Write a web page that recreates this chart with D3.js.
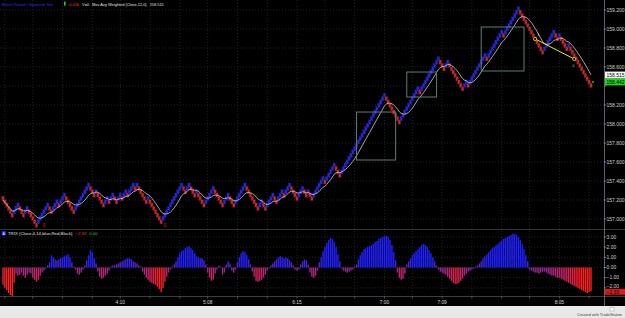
<!DOCTYPE html>
<html>
<head>
<meta charset="utf-8">
<script src="https://cdn.jsdelivr.net/npm/d3@7"></script>
<style>
  body { margin: 0; background: #e6e6e6; }
  svg { display: block; font-family: 'Liberation Sans', Arial, sans-serif; }
</style>
</head>
<body>
<svg id="graf" width="625" height="318"></svg>
<script>
// I. Datos
// ladrillos: cada número es una racha de ladrillos (+ sube, - baja)
const movimientos = [-6, 3, -3, 2, -5, 6, -2, 3, -1, 3, -5, 8, -3, 1, -4, 2, -1, 2, -2, 2,
  -1, 2, -1, 3, -1, 1, -5, 1, -7, 11, -2, 2, -3, 1, -4, 5, -5, 3, -3, 6,
  -7, 2, -2, 4, -2, 3, -1, 3, -4, 3, -2, 1, -2, 6, -1, 5, -3, 24, -8, 10,
  -1, 10, -3, 2, -8, 2, -1, 9, -1, 8, -1, 8, -13, 6, -2, 1, -4, 1, -12]
const precioInicio = 157.234
const tamLadrillo = 0.035
const periodoMedia = 12

const trix = [
  -1.7, -2.0, -2.2, -2.5, -2.7, -2.8, -1.5, -0.6, -0.8, -0.7,
  -0.5, -0.8, -1.0, -0.7, -0.5, -0.6, -1.0, -1.2, -1.4, -1.2,
  -0.8, -0.5, -0.3, -0.1, 0.2, 0.5, 1.2, 1.0, 0.8, 0.7,
  0.8, 0.9, 1.0, 1.1, 1.2, 1.3, 1.0, 0.5, 0.1, -0.2,
  -0.6, -0.7, -0.5, -0.2, 0.2, 0.7, 1.2, 1.7, 1.5, 0.9,
  0.4, -0.4, -0.9, -1.1, -1.0, -0.8, -0.6, -0.3, 0.1, 0.2,
  0.2, 0.3, 0.4, 0.5, 0.6, 0.7, 0.8, 0.9, 0.9, 0.8,
  0.6, 0.5, 0.4, 0.2, 0.1, -0.4, -0.7, -1.0, -1.2, -1.4,
  -1.5, -1.6, -1.7, -1.9, -2.1, -2.4, -2.0, -1.4, -0.9, -0.5,
  -0.2, 0.1, 0.3, 0.6, 1.0, 1.4, 1.6, 1.7, 1.9, 2.0,
  2.1, 1.9, 1.7, 1.4, 1.1, 1.0, 0.9, 0.9, 0.7, 0.3,
  -0.5, -1.0, -1.3, -1.2, -0.6, -0.2, 0.2, 0.1, -0.7, -0.5,
  0.3, 0.6, 0.4, -0.3, -0.5, -0.2, 0.5, 1.0, 1.4, 1.6,
  1.5, 1.2, 0.8, 0.3, -0.4, -0.9, -1.3, -1.4, -1.3, -1.2,
  -1.0, -0.7, -0.3, -0.1, 0.2, 0.4, 0.6, 0.8, 1.0, 1.1,
  1.0, 0.9, 1.0, 0.9, 0.7, 0.5, 0.2, -0.2, -0.3, -0.2,
  0.3, 0.6, 0.8, 0.7, 0.3, -0.5, -0.9, -1.0, -0.8, -0.3,
  0.5, 1.0, 1.6, 2.0, 2.4, 2.7, 2.9, 2.8, 2.5, 2.0,
  1.3, 0.6, -0.1, -0.3, -0.4, -0.5, -0.4, -0.3, -0.2, 0.1,
  0.3, 0.8, 1.2, 1.5, 1.8, 1.9, 2.0, 2.1, 2.2, 2.3,
  2.5, 2.6, 2.8, 2.9, 3.0, 3.1, 3.1, 3.0, 2.7, 2.2,
  1.5, 0.7, -0.5, -1.0, -1.2, -1.1, -0.6, 0.3, 0.6, 0.9,
  1.2, 1.4, 1.6, 1.8, 2.0, 2.2, 2.3, 2.2, 2.0, 1.7,
  1.4, 1.0, 0.6, 0.2, -0.2, -0.4, -0.5, -0.6, -0.7, -0.9,
  -1.1, -1.3, -1.5, -1.6, -1.6, -1.5, -1.3, -1.1, -0.8, -0.6,
  -0.4, -0.3, -0.2, -0.1, 0.1, 0.2, 0.4, 0.6, 0.9, 1.1,
  1.3, 1.5, 1.7, 1.9, 2.0, 2.2, 2.3, 2.5, 2.6, 2.8,
  2.9, 3.0, 3.1, 3.2, 3.3, 3.3, 3.2, 3.0, 2.7, 2.3,
  1.8, 1.2, 0.6, -0.2, -0.3, -0.4, -0.5, -0.5, -0.6, -0.5,
  -0.4, -0.4, -0.5, -0.6, -0.7, -0.8, -0.8, -0.9, -1.0, -1.0,
  -1.1, -1.2, -1.3, -1.4, -1.5, -1.6, -1.7, -1.8, -1.9, -2.0,
  -2.1, -2.2, -2.3, -2.4, -2.5, -2.4, -2.33]

const preciosEje = [159.2, 159.0, 158.8, 158.6, 158.4, 158.2, 158.0, 157.8, 157.6, 157.4, 157.2, 157.0]
// 158.400 queda tapado por la caja del último precio
const preciosTexto = [159.2, 159.0, 158.8, 158.6, 158.2, 158.0, 157.8, 157.6, 157.4, 157.2, 157.0]
const trixEje = [3, 2, 1, 0, -1, -2]
const ticksHora = [1, 16, 32, 48, 63, 79, 95, 110, 126, 142, 158, 173, 189, 205, 220, 236, 252, 268, 283, 299, 315]
const horasBarra = [63, 110, 158, 205, 236, 299]
const horasTexto = ['4:10', '5:08', '6:15', '7:00', '7:09', '8:05']

// dibujos sobre el gráfico: [barra inicio, barra fin, precio arriba, precio abajo]
const cajas = [[190, 211, 158.126, 157.621], [217, 233, 158.547, 158.284], [257, 280, 159.021, 158.558]]
const lineaTend = [[286, 158.895], [307, 158.684]]
const marcasCero = [[22, 156.916], [87, 156.916]]

const ultimoPrecio = 158.442
const ultimaMedia = 158.515
const ultimoTrix = -2.33

// II. Configuración
svg = d3.select('#graf')
ancho_total = 625
alto_total = 318
ejeX = 604   // línea del eje de precios

// fondo negro hasta la banda de horas, gris claro abajo
svg.append('rect').attr('width', ancho_total).attr('height', alto_total).attr('fill', '#e8e8e8')
svg.append('rect').attr('width', ancho_total).attr('height', 306).attr('fill', '#000')

// construimos los ladrillos a partir de las rachas
barras = []
nivel = 0
movimientos.forEach(m => {
  d3.range(Math.abs(m)).forEach(() => {
    nivel += Math.sign(m)
    const bajo = precioInicio + nivel * tamLadrillo
    barras.push({ arriba: m > 0, bajo: bajo, alto: bajo + tamLadrillo, cierre: m > 0 ? bajo + tamLadrillo : bajo })
  })
})

// media móvil ponderada del cierre
barras.forEach((d, i) => {
  const ventana = barras.slice(Math.max(0, i - periodoMedia + 1), i + 1)
  const pesos = ventana.map((v, j) => j + 1)
  d.media = d3.sum(ventana, (v, j) => v.cierre * pesos[j]) / d3.sum(pesos)
})

x = d3.scaleLinear().domain([0, barras.length - 1]).range([3, 591])
y = d3.scaleLinear().domain([157.0, 159.2]).range([219, 10])
yT = d3.scaleLinear().domain([-2, 3]).range([287.9, 236.9])

colorTrix = d3.scaleLinear()
  .domain([-2.2, -0.3, 1.2])
  .range(['#ff2020', '#8a2a9e', '#2020ff'])
  .clamp(true)

// III. Rejilla
rejilla = svg.append('g')
  .attr('stroke', '#3a3a3a')
  .attr('stroke-width', 0.6)
  .attr('stroke-dasharray', '1,2')

rejilla.selectAll('.hp')
  .data(preciosEje)
  .enter().append('line')
    .attr('x1', 0).attr('x2', ejeX)
    .attr('y1', d => y(d)).attr('y2', d => y(d))

rejilla.selectAll('.ht')
  .data(trixEje)
  .enter().append('line')
    .attr('x1', 0).attr('x2', ejeX)
    .attr('y1', d => yT(d)).attr('y2', d => yT(d))

rejilla.selectAll('.v')
  .data(ticksHora)
  .enter().append('line')
    .attr('x1', d => x(d)).attr('x2', d => x(d))
    .attr('y1', 0).attr('y2', 296)

// separación entre paneles
svg.append('line')
  .attr('x1', 0).attr('x2', ancho_total)
  .attr('y1', 229.5).attr('y2', 229.5)
  .attr('stroke', '#555').attr('stroke-width', 0.6)

// IV. Ladrillos (un poco más altos que el paso, como en el original)
svg.append('g').selectAll('rect')
  .data(barras)
  .enter().append('rect')
    .attr('x', (d, i) => x(i) - 1.3)
    .attr('y', d => y(d.alto) - 0.5)
    .attr('width', 2.6)
    .attr('height', d => y(d.bajo) - y(d.alto) + 1)
    .attr('fill', d => d.arriba ? '#2828d2' : '#c02a2a')
    .attr('stroke', d => d.arriba ? '#161680' : '#5e1010')
    .attr('stroke-width', 0.35)

// media ponderada
linea = d3.line()
  .x((d, i) => x(i))
  .y(d => y(d.media))

svg.append('path')
  .datum(barras)
  .attr('d', linea)
  .attr('fill', 'none')
  .attr('stroke', '#cfcfcf')
  .attr('stroke-width', 0.8)

// cajas dibujadas
svg.append('g').selectAll('rect')
  .data(cajas)
  .enter().append('rect')
    .attr('x', d => x(d[0]))
    .attr('y', d => y(d[2]))
    .attr('width', d => x(d[1]) - x(d[0]))
    .attr('height', d => y(d[3]) - y(d[2]))
    .attr('fill', 'none')
    .attr('stroke', '#5d7f70')
    .attr('stroke-width', 1)

// línea de tendencia amarilla
svg.append('line')
  .attr('x1', x(lineaTend[0][0])).attr('y1', y(lineaTend[0][1]))
  .attr('x2', x(lineaTend[1][0])).attr('y2', y(lineaTend[1][1]))
  .attr('stroke', '#f0f000').attr('stroke-width', 1)

svg.append('g').selectAll('circle')
  .data(lineaTend)
  .enter().append('circle')
    .attr('cx', d => x(d[0])).attr('cy', d => y(d[1]))
    .attr('r', 1.6)
    .attr('fill', '#000').attr('stroke', '#f0f000').attr('stroke-width', 0.8)

svg.append('text')
  .attr('x', x(lineaTend[0][0]) + 2).attr('y', y(lineaTend[0][1]) - 3)
  .attr('font-size', '4px').attr('fill', '#ddd').text('1')
svg.append('text')
  .attr('x', x(lineaTend[1][0]) - 2).attr('y', y(lineaTend[1][1]) + 8)
  .attr('font-size', '4px').attr('fill', '#aaa').text('0')

svg.append('g').selectAll('text')
  .data(marcasCero)
  .enter().append('text')
    .attr('x', d => x(d[0])).attr('y', d => y(d[1]))
    .attr('text-anchor', 'middle')
    .attr('font-size', '4.5px').attr('fill', '#e02020')
    .text('0')

// punto del último precio
svg.append('circle')
  .attr('cx', x(barras.length - 1) + 2).attr('cy', y(ultimoPrecio))
  .attr('r', 1).attr('fill', '#20c020')

// V. TRIX
svg.append('g').selectAll('rect')
  .data(trix)
  .enter().append('rect')
    .attr('x', (d, i) => x(i) - 0.7)
    .attr('y', d => Math.min(yT(0), yT(d)))
    .attr('width', 1.4)
    .attr('height', d => Math.abs(yT(d) - yT(0)))
    .attr('fill', d => colorTrix(d))

// VI. Ejes
// banda de horas
svg.append('line')
  .attr('x1', 0).attr('x2', ancho_total)
  .attr('y1', 296.5).attr('y2', 296.5)
  .attr('stroke', '#666').attr('stroke-width', 0.6)

svg.append('g').selectAll('line')
  .data(ticksHora)
  .enter().append('line')
    .attr('x1', d => x(d)).attr('x2', d => x(d))
    .attr('y1', 296.5).attr('y2', 298.5)
    .attr('stroke', '#888').attr('stroke-width', 0.6)

svg.append('g').selectAll('text')
  .data(horasBarra)
  .enter().append('text')
    .attr('x', d => x(d)).attr('y', 304)
    .attr('text-anchor', 'middle')
    .attr('font-size', '4.8px').attr('fill', '#d8d8d8')
    .text((d, i) => horasTexto[i])

// eje de precios
svg.append('line')
  .attr('x1', ejeX + 0.5).attr('x2', ejeX + 0.5)
  .attr('y1', 0).attr('y2', 306)
  .attr('stroke', '#8a8a8a').attr('stroke-width', 0.7)

ejeP = svg.append('g')
ejeP.selectAll('line')
  .data(preciosEje)
  .enter().append('line')
    .attr('x1', ejeX).attr('x2', ejeX + 2.5)
    .attr('y1', d => y(d)).attr('y2', d => y(d))
    .attr('stroke', '#aaa').attr('stroke-width', 0.6)
ejeP.selectAll('text')
  .data(preciosTexto)
  .enter().append('text')
    .attr('x', ejeX + 2.5).attr('y', d => y(d) + 1.7)
    .attr('font-size', '5px').attr('fill', '#d0d0d0')
    .text(d => d3.format('.3f')(d))

ejeT = svg.append('g')
ejeT.selectAll('line')
  .data(trixEje)
  .enter().append('line')
    .attr('x1', ejeX).attr('x2', ejeX + 2.5)
    .attr('y1', d => yT(d)).attr('y2', d => yT(d))
    .attr('stroke', '#aaa').attr('stroke-width', 0.6)
ejeT.selectAll('text')
  .data(trixEje)
  .enter().append('text')
    .attr('x', ejeX + 2.5).attr('y', d => yT(d) + (d === -2 ? 0.3 : 1.7))
    .attr('font-size', '5px').attr('fill', '#d0d0d0')
    .text(d => d3.format('.2f')(d))

// cajas de último valor
function cajaValor(yPos, texto, fondo, alto) {
  svg.append('rect')
    .attr('x', ejeX + 1).attr('y', yPos - alto / 2)
    .attr('width', ancho_total - ejeX - 1).attr('height', alto)
    .attr('fill', fondo)
  svg.append('text')
    .attr('x', ejeX + 2.5).attr('y', yPos + 1.8)
    .attr('font-size', '5px').attr('fill', '#000')
    .text(texto)
}
cajaValor(y(ultimaMedia), d3.format('.3f')(ultimaMedia), '#ffffff', 7)
cajaValor(y(ultimoPrecio), d3.format('.3f')(ultimoPrecio), '#1ed21e', 6.8)
cajaValor(yT(ultimoTrix) + 0.6, d3.format('.2f')(ultimoTrix), '#e01818', 5.8)

// VII. Títulos
cab = svg.append('text').attr('x', 2).attr('y', 5.6).attr('font-size', '3.9px')
cab.append('tspan').attr('fill', '#2f2fff').text('British Pound / Japanese Yen')
svg.append('rect').attr('x', 64).attr('y', 1.6).attr('width', 1.6).attr('height', 4).attr('fill', '#30c030')
cab2 = svg.append('text').attr('x', 68).attr('y', 5.6).attr('font-size', '3.9px')
cab2.append('tspan').attr('fill', '#ff3030').text('-0.416')
cab2.append('tspan').attr('fill', '#e0e0e0').attr('dx', 3).text('V=0')
cab2.append('tspan').attr('fill', '#e0e0e0').attr('dx', 3).text('Mov Avg Weighted (Close,12,0)')
cab2.append('tspan').attr('fill', '#e0e0e0').attr('dx', 3).text(d3.format('.3f')(ultimaMedia))

svg.append('rect').attr('x', 1.5).attr('y', 231).attr('width', 4.5).attr('height', 4.5).attr('fill', '#2020d0')
svg.append('text').attr('x', 3.75).attr('y', 234.9).attr('text-anchor', 'middle')
  .attr('font-size', '3.6px').attr('fill', '#fff').text('A')
cabT = svg.append('text').attr('x', 8).attr('y', 235).attr('font-size', '4.3px')
cabT.append('tspan').attr('fill', '#e0e0e0').text('TRIX (Close,4,14,blue,Red,Black)')
cabT.append('tspan').attr('fill', '#ff3030').attr('dx', 3).text(d3.format('.2f')(ultimoTrix))
cabT.append('tspan').attr('fill', '#30c030').attr('dx', 3).text('0.00')

// pie
svg.append('rect').attr('x', 610).attr('y', 307.5).attr('width', 4).attr('height', 3.5)
  .attr('fill', '#fafafa').attr('stroke', '#999').attr('stroke-width', 0.4)
svg.append('text')
  .attr('x', 622).attr('y', 316)
  .attr('text-anchor', 'end')
  .attr('font-size', '3.9px').attr('fill', '#444')
  .text('Created with TradeStation')
</script>
</body>
</html>
